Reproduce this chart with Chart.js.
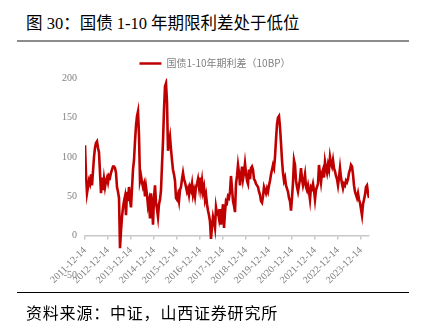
<!DOCTYPE html>
<html>
<head>
<meta charset="utf-8">
<script src="https://cdn.jsdelivr.net/npm/chart.js@4"></script>
<style>
  html, body { margin: 0; padding: 0; background: #fff; }
  body { width: 422px; height: 329px; position: relative; overflow: hidden; }
  #title {
    position: absolute; left: 26px; top: 15px;
    font-family: "Liberation Serif", "Noto Sans CJK SC", serif;
    font-size: 16.5px; line-height: 17px; color: #000; white-space: nowrap;
  }
  #source {
    position: absolute; left: 26px; top: 304px;
    font-family: "Noto Sans CJK SC", sans-serif;
    font-size: 16px; line-height: 17px; letter-spacing: 0.8px; color: #000; white-space: nowrap;
  }
  .rule { position: absolute; left: 17px; width: 392px; }
  #topRule { top: 40px; height: 2px; background: #8c8c8c; }
  #bottomRule { top: 292px; height: 1.3px; background: #000; }
  #wrap { position: absolute; left: 0; top: 0; width: 422px; height: 329px; }
</style>
</head>
<body>
<div id="title">图 30：国债 1-10 年期限利差处于低位</div>
<div class="rule" id="topRule"></div>
<div id="wrap"><canvas id="chart"></canvas></div>
<div class="rule" id="bottomRule"></div>
<div id="source">资料来源：中证，山西证券研究所</div>
<script>
// roughly one reading every ~16 days, 23 per year, starting 2011-12-14
const PER_YEAR = 23;
const seriesName = '国债1-10年期利差（10BP）';
const tickLabels = ['2011-12-14', '2012-12-14', '2013-12-14', '2014-12-14', '2015-12-14',
  '2016-12-14', '2017-12-14', '2018-12-14', '2019-12-14', '2020-12-14',
  '2021-12-14', '2022-12-14', '2023-12-14'];
const yMin = -50;
const yMax = 200;
const yStep = 50;

const spread = [
  // 2011-12 .. 2012-12
  115, 78, 54, 62, 70, 66, 78, 64, 82, 100, 112, 118, 120, 112, 106, 80, 54, 74, 58, 72, 62, 70, 74,
  // 2012-12 .. 2013-12
  68, 76, 74, 80, 84, 88, 88, 86, 80, 62, 56, 48, -16, 6, 24, 36, 44, 50, 26, 56, 44, 62, 46,
  // 2013-12 .. 2014-12
  36, 60, 84, 96, 120, 140, 152, 158, 128, 70, 76, 68, 62, 66, 50, 62, 52, 38, 44, 22, 54, 40, 14,
  // 2014-12 .. 2015-12
  48, 64, 42, 34, 24, 40, 46, 58, 90, 120, 160, 190, 194, 170, 108, 118, 126, 110, 96, 84, 78, 70, 48,
  // 2015-12 .. 2016-12
  46, 52, 44, 58, 62, 72, 80, 72, 68, 62, 56, 60, 52, 62, 58, 66, 52, 58, 50, 62, 66, 72, 62,
  // 2016-12 .. 2017-12
  74, 60, 70, 56, 62, 46, 52, 40, 32, 26, 18, -4, 12, 24, 18, 10, 36, 28, 30, 22, 34, 14, 28,
  // 2017-12 .. 2018-12
  40, 10, 30, 44, 42, 50, 48, 56, 76, 60, 44, 38, 30, 66, 76, 90, 80, 64, 76, 88, 72, 80, 92,
  // 2018-12 .. 2019-12
  80, 70, 66, 84, 72, 86, 88, 84, 72, 70, 66, 64, 62, 56, 52, 44, 42, 50, 62, 58, 54, 60, 56,
  // 2019-12 .. 2020-12
  64, 70, 78, 84, 90, 86, 100, 122, 142, 150, 152, 138, 118, 96, 80, 70, 74, 64, 60, 56, 48, 44, 32,
  // 2020-12 .. 2021-12
  48, 68, 96, 90, 70, 62, 56, 64, 72, 86, 72, 64, 70, 78, 62, 58, 64, 56, 46, 62, 60, 66, 58,
  // 2021-12 .. 2022-12
  46, 58, 62, 66, 90, 78, 68, 80, 84, 74, 94, 86, 80, 90, 84, 100, 92, 88, 96, 86, 82, 76, 72,
  // 2022-12 .. 2023-12
  64, 74, 86, 74, 66, 60, 66, 64, 70, 68, 72, 80, 84, 90, 88, 78, 64, 56, 52, 48, 54, 46, 42,
  // 2023-12 ..
  34, 26, 40, 46, 52, 62, 64, 54, 48
];

const points = spread.map((v, i) => ({ x: i / PER_YEAR, y: v }));
const lastX = (spread.length - 1) / PER_YEAR;

const grey = '#808080';
const serif = 'Liberation Serif';

new Chart(document.getElementById('chart'), {
  type: 'line',
  data: {
    datasets: [{
      label: seriesName,
      data: points,
      borderColor: '#c00000',
      backgroundColor: '#c00000',
      borderWidth: 2.6,
      pointRadius: 0,
      tension: 0
    }]
  },
  options: {
    responsive: true,
    maintainAspectRatio: false,
    animation: false,
    // left padding also shifts the full-width legend to the right
    layout: { padding: { top: 42, right: 53, bottom: 54, left: 61 } },
    plugins: {
      tooltip: { enabled: false },
      legend: {
        position: 'top',
        labels: {
          color: '#7f7f7f',
          font: { family: 'Noto Sans CJK SC', size: 10 },
          usePointStyle: true,
          pointStyle: 'line',
          pointStyleWidth: 22,
          padding: 16.5
        }
      }
    },
    scales: {
      x: {
        type: 'linear',
        position: { y: 0 },
        min: 0,
        max: lastX,
        afterFit: s => { s.height = 0; },
        afterBuildTicks: s => { s.ticks = tickLabels.map((_, i) => ({ value: i })); },
        border: { display: true, color: '#c8c8c8', width: 1.5 },
        grid: { display: true, drawOnChartArea: false, drawTicks: true, tickLength: 3, color: '#c8c8c8', lineWidth: 1.5 },
        ticks: {
          autoSkip: false,
          minRotation: 45,
          maxRotation: 45,
          padding: 6,
          color: grey,
          font: { family: serif, size: 10 },
          callback: v => tickLabels[v]
        }
      },
      y: {
        min: yMin,
        max: yMax,
        afterFit: s => { s.width = 24; },
        border: { display: false },
        grid: { display: false, drawTicks: false },
        ticks: {
          stepSize: yStep,
          padding: 8,
          color: grey,
          font: { family: serif, size: 10 }
        }
      }
    }
  }
});
</script>
</body>
</html>
